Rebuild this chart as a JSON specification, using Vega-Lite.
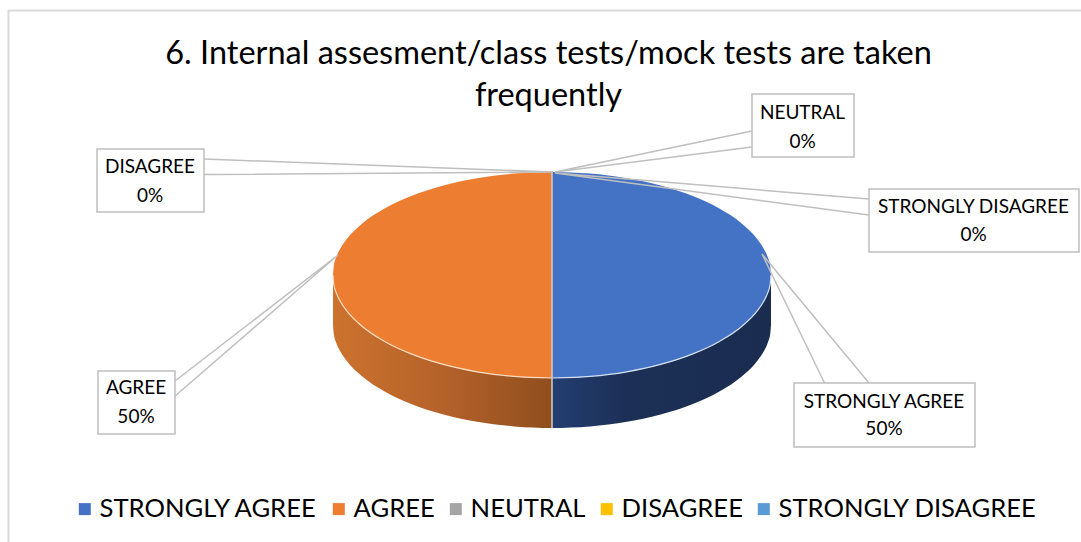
{"$schema":"https://vega.github.io/schema/vega-lite/v6.json","width":1081,"height":542,"autosize":"none","padding":0,"background":"white","title":{"text":["6. Internal assesment/class tests/mock tests are taken","frequently"],"anchor":"middle","frame":"group","dx":8,"dy":112,"offset":0,"font":"Lato","fontSize":32.5,"fontWeight":"normal","color":"#000000","lineHeight":42},"config":{"view":{"stroke":null},"font":"Lato"},
"datasets":{"top":[
{"slice":"AGREE","x":333,"y":275,"y2":275},{"slice":"AGREE","x":333.8,"y":266,"y2":284},{"slice":"AGREE","x":336.3,"y":257.1,"y2":292.9},{"slice":"AGREE","x":340.5,"y":248.3,"y2":301.7},{"slice":"AGREE","x":346.2,"y":239.8,"y2":310.2},{"slice":"AGREE","x":362.3,"y":223.5,"y2":326.5},{"slice":"AGREE","x":384.2,"y":208.8,"y2":341.2},{"slice":"AGREE","x":411.2,"y":196.1,"y2":353.9},{"slice":"AGREE","x":442.5,"y":185.8,"y2":364.2},{"slice":"AGREE","x":477.1,"y":178.2,"y2":371.8},{"slice":"AGREE","x":514,"y":173.6,"y2":376.4},{"slice":"AGREE","x":552,"y":172,"y2":378},
{"slice":"STRONGLY AGREE","x":552,"y":172,"y2":378},{"slice":"STRONGLY AGREE","x":590,"y":173.6,"y2":376.4},{"slice":"STRONGLY AGREE","x":626.9,"y":178.2,"y2":371.8},{"slice":"STRONGLY AGREE","x":661.5,"y":185.8,"y2":364.2},{"slice":"STRONGLY AGREE","x":692.8,"y":196.1,"y2":353.9},{"slice":"STRONGLY AGREE","x":719.8,"y":208.8,"y2":341.2},{"slice":"STRONGLY AGREE","x":741.7,"y":223.5,"y2":326.5},{"slice":"STRONGLY AGREE","x":757.8,"y":239.8,"y2":310.2},{"slice":"STRONGLY AGREE","x":763.5,"y":248.3,"y2":301.7},{"slice":"STRONGLY AGREE","x":767.7,"y":257.1,"y2":292.9},{"slice":"STRONGLY AGREE","x":770.2,"y":266,"y2":284},{"slice":"STRONGLY AGREE","x":771,"y":275,"y2":275}],
"wallL":[{"x":333,"y":275,"y2":325},{"x":333.8,"y":284,"y2":334},{"x":336.3,"y":292.9,"y2":342.9},{"x":340.5,"y":301.7,"y2":351.7},{"x":346.2,"y":310.2,"y2":360.2},{"x":362.3,"y":326.5,"y2":376.5},{"x":384.2,"y":341.2,"y2":391.2},{"x":411.2,"y":353.9,"y2":403.9},{"x":442.5,"y":364.2,"y2":414.2},{"x":477.1,"y":371.8,"y2":421.8},{"x":514,"y":376.4,"y2":426.4},{"x":552,"y":378,"y2":428}],
"wallR":[{"x":552,"y":378,"y2":428},{"x":590,"y":376.4,"y2":426.4},{"x":626.9,"y":371.8,"y2":421.8},{"x":661.5,"y":364.2,"y2":414.2},{"x":692.8,"y":353.9,"y2":403.9},{"x":719.8,"y":341.2,"y2":391.2},{"x":741.7,"y":326.5,"y2":376.5},{"x":757.8,"y":310.2,"y2":360.2},{"x":763.5,"y":301.7,"y2":351.7},{"x":767.7,"y":292.9,"y2":342.9},{"x":770.2,"y":284,"y2":334},{"x":771,"y":275,"y2":325}],
"leaders":[
{"c":"DISAGREE","s":1,"x":204,"y":159},{"c":"DISAGREE","s":2,"x":553,"y":172},{"c":"DISAGREE","s":3,"x":204,"y":174.5},
{"c":"NEUTRAL","s":1,"x":752,"y":131},{"c":"NEUTRAL","s":2,"x":555,"y":172},{"c":"NEUTRAL","s":3,"x":752,"y":147},
{"c":"STRONGLY DISAGREE","s":1,"x":869,"y":199},{"c":"STRONGLY DISAGREE","s":2,"x":555,"y":173},{"c":"STRONGLY DISAGREE","s":3,"x":869,"y":215},
{"c":"AGREE","s":1,"x":175,"y":381},{"c":"AGREE","s":2,"x":338,"y":255},{"c":"AGREE","s":3,"x":175,"y":396},
{"c":"STRONGLY AGREE","s":1,"x":824.5,"y":383},{"c":"STRONGLY AGREE","s":2,"x":762,"y":254},{"c":"STRONGLY AGREE","s":3,"x":869,"y":383}],
"boxes":[
{"c":"DISAGREE","pct":"0%","x":97,"x2":204,"y":149,"y2":212,"tx":150,"y1":167,"yp":196},
{"c":"NEUTRAL","pct":"0%","x":752,"x2":854,"y":94,"y2":157,"tx":802.5,"y1":113,"yp":142},
{"c":"STRONGLY DISAGREE","pct":"0%","x":869,"x2":1079,"y":189,"y2":252,"tx":973.5,"y1":207,"yp":235},
{"c":"AGREE","pct":"50%","x":98,"x2":175,"y":371,"y2":434,"tx":136,"y1":388,"yp":417},
{"c":"STRONGLY AGREE","pct":"50%","x":794,"x2":975,"y":383,"y2":447,"tx":884,"y1":402,"yp":429}]},
"layer":[
{"data":{"values":[{"x":8.5,"x2":1095,"y":10.5,"y2":560}]},"mark":{"type":"rect","fill":"white","stroke":"#d9d9d9","strokeWidth":2},"encoding":{"x":{"field":"x","type":"quantitative","scale":{"domain":[0,1081],"nice":false},"axis":null},"x2":{"field":"x2"},"y":{"field":"y","type":"quantitative","scale":{"domain":[542,0],"nice":false},"axis":null},"y2":{"field":"y2"}}},
{"data":{"name":"wallL"},"mark":{"type":"area","interpolate":"monotone","color":{"gradient":"linear","x1":0,"x2":1,"y1":0,"y2":0,"stops":[{"offset":0,"color":"#cc722d"},{"offset":0.5,"color":"#b5622a"},{"offset":1,"color":"#8f4e1e"}]}},"encoding":{"x":{"field":"x","type":"quantitative","scale":{"domain":[0,1081],"nice":false},"axis":null},"y":{"field":"y","type":"quantitative","scale":{"domain":[542,0],"nice":false},"axis":null},"y2":{"field":"y2"}}},
{"data":{"name":"wallR"},"mark":{"type":"area","interpolate":"monotone","color":{"gradient":"linear","x1":0,"x2":1,"y1":0,"y2":0,"stops":[{"offset":0,"color":"#243e72"},{"offset":0.35,"color":"#1c2f55"},{"offset":1,"color":"#1a2c50"}]}},"encoding":{"x":{"field":"x","type":"quantitative","scale":{"domain":[0,1081],"nice":false},"axis":null},"y":{"field":"y","type":"quantitative","scale":{"domain":[542,0],"nice":false},"axis":null},"y2":{"field":"y2"}}},
{"data":{"name":"top"},"mark":{"type":"area","interpolate":"monotone"},"encoding":{"x":{"field":"x","type":"quantitative","scale":{"domain":[0,1081],"nice":false},"axis":null},"y":{"field":"y","type":"quantitative","scale":{"domain":[542,0],"nice":false},"axis":null},"y2":{"field":"y2"},"color":{"field":"slice","type":"nominal","scale":{"domain":["STRONGLY AGREE","AGREE","NEUTRAL","DISAGREE","STRONGLY DISAGREE"],"range":["#4472c4","#ed7d31","#a5a5a5","#ffc000","#5b9bd5"]},"legend":{"orient":"none","legendX":72,"legendY":496,"direction":"horizontal","columns":5,"title":null,"symbolType":"square","symbolSize":144,"symbolStrokeWidth":0,"symbolOpacity":1,"labelFont":"Lato","labelFontSize":25.6,"labelColor":"#000000","labelOffset":2,"columnPadding":8,"labelLimit":400}}}},
{"data":{"name":"top"},"transform":[{"filter":"datum.slice==='AGREE'"}],"mark":{"type":"line","interpolate":"monotone","stroke":"#fbdcc0","strokeWidth":1.2},"encoding":{"x":{"field":"x","type":"quantitative","scale":{"domain":[0,1081],"nice":false},"axis":null},"y":{"field":"y2","type":"quantitative","scale":{"domain":[542,0],"nice":false},"axis":null}}},
{"data":{"name":"top"},"transform":[{"filter":"datum.slice==='STRONGLY AGREE'"}],"mark":{"type":"line","interpolate":"monotone","stroke":"#d4e0f2","strokeWidth":1.2},"encoding":{"x":{"field":"x","type":"quantitative","scale":{"domain":[0,1081],"nice":false},"axis":null},"y":{"field":"y2","type":"quantitative","scale":{"domain":[542,0],"nice":false},"axis":null}}},
{"data":{"values":[{"x":552,"y":172,"y2":428}]},"mark":{"type":"rule","stroke":"#d3cdc8","strokeWidth":1.5},"encoding":{"x":{"field":"x","type":"quantitative","scale":{"domain":[0,1081],"nice":false},"axis":null},"y":{"field":"y","type":"quantitative","scale":{"domain":[542,0],"nice":false},"axis":null},"y2":{"field":"y2"}}},
{"data":{"name":"leaders"},"mark":{"type":"line","stroke":"#bfbfbf","strokeWidth":1.5},"encoding":{"x":{"field":"x","type":"quantitative","scale":{"domain":[0,1081],"nice":false},"axis":null},"y":{"field":"y","type":"quantitative","scale":{"domain":[542,0],"nice":false},"axis":null},"detail":{"field":"c"},"order":{"field":"s"}}},
{"data":{"name":"boxes"},"mark":{"type":"rect","fill":"white","stroke":"#bfbfbf","strokeWidth":1.5},"encoding":{"x":{"field":"x","type":"quantitative","scale":{"domain":[0,1081],"nice":false},"axis":null},"x2":{"field":"x2"},"y":{"field":"y","type":"quantitative","scale":{"domain":[542,0],"nice":false},"axis":null},"y2":{"field":"y2"}}},
{"data":{"name":"boxes"},"mark":{"type":"text","font":"Lato","fontSize":19,"color":"#000000","baseline":"middle","align":"center"},"encoding":{"x":{"field":"tx","type":"quantitative","scale":{"domain":[0,1081],"nice":false},"axis":null},"y":{"field":"y1","type":"quantitative","scale":{"domain":[542,0],"nice":false},"axis":null},"text":{"field":"c"}}},
{"data":{"name":"boxes"},"mark":{"type":"text","font":"Lato","fontSize":19,"color":"#000000","baseline":"middle","align":"center"},"encoding":{"x":{"field":"tx","type":"quantitative","scale":{"domain":[0,1081],"nice":false},"axis":null},"y":{"field":"yp","type":"quantitative","scale":{"domain":[542,0],"nice":false},"axis":null},"text":{"field":"pct"}}}
],"resolve":{"scale":{"x":"shared","y":"shared"}}}
